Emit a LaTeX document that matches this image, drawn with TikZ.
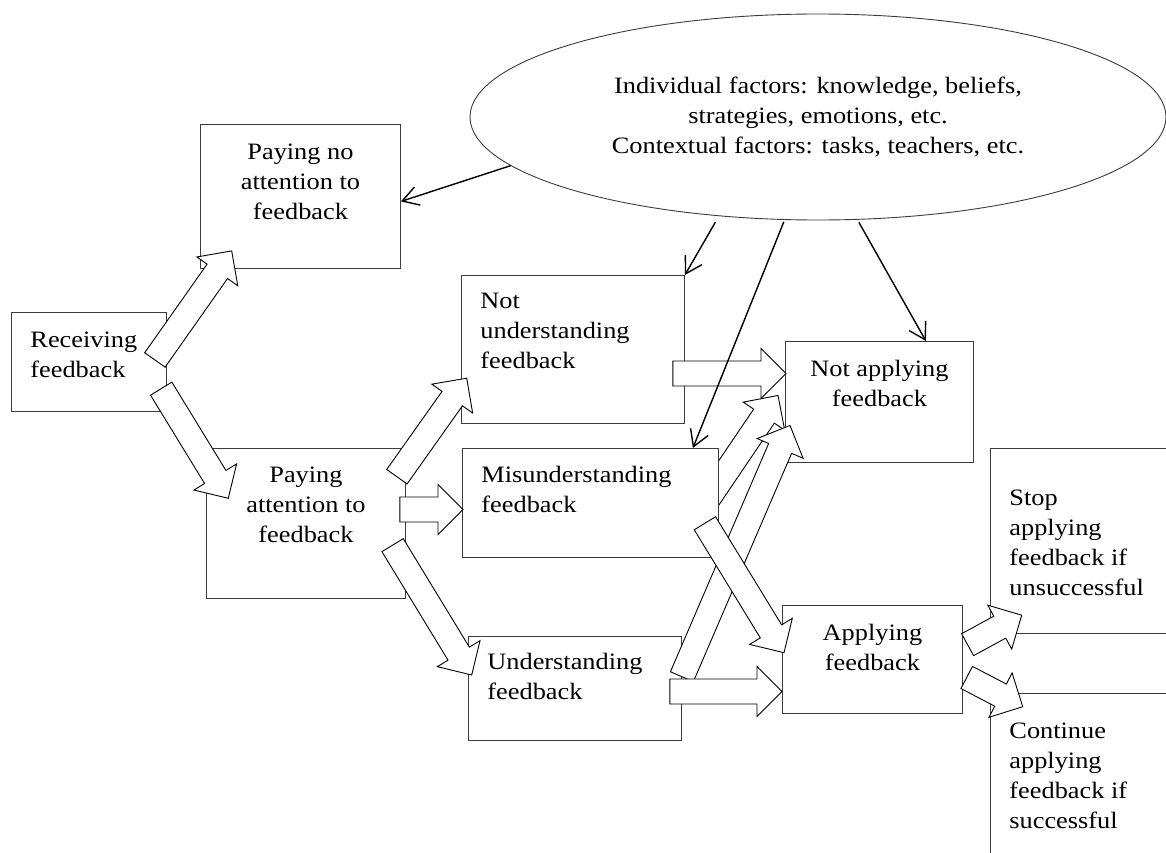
\documentclass[tikz,border=0pt]{standalone}
\usepackage{fontspec}
\setmainfont{Liberation Serif}[FakeStretch=1.12]
\usetikzlibrary{calc,shapes.geometric,arrows.meta,backgrounds}
\definecolor{boxline}{RGB}{60,60,60}

% hollow block arrow from tail to tip
\newcommand{\blockarrow}[2]{%
  \coordinate (ba-tail) at (#1);
  \coordinate (ba-tip) at (#2);
  \coordinate (ba-base) at ($(ba-tip)!25pt!(ba-tail)$);
  \draw[blockarr] ($(ba-tail)!12.5pt!90:(ba-tip)$) -- ($(ba-base)!12.5pt!90:(ba-tip)$)
    -- ($(ba-base)!25pt!90:(ba-tip)$) -- (ba-tip) -- ($(ba-base)!25pt!-90:(ba-tip)$)
    -- ($(ba-base)!12.5pt!-90:(ba-tip)$) -- ($(ba-tail)!12.5pt!-90:(ba-tip)$) -- cycle;
}

\begin{document}
\begin{tikzpicture}[x=1pt,y=-1pt,
    font=\fontsize{23.5}{30}\selectfont,
    box/.style={draw=boxline,line width=0.9pt,fill=white,anchor=north west,inner sep=0pt},
    lbox/.style={box,inner xsep=19pt},
    blockarr/.style={draw=black,line width=0.9pt,fill=white,line join=miter},
    infl/.style={-{Straight Barb[length=16pt,width=19pt]},line width=1.4pt}]
    \path[clip,use as bounding box] (0,0) rectangle (1166,853);

    % stages
    \node[lbox] (recv) at (11,312) {
        \begin{minipage}[t][99pt][t]{117pt}
            \vspace*{19.5pt}Receiving\\ feedback
        \end{minipage}
    };
    \node[box] (noatt) at (200,124) {
        \begin{minipage}[t][144pt][t]{200pt}
            \centering\vspace*{19.7pt}Paying no\\ attention to\\ feedback
        \end{minipage}
    };
    \node[box] (att) at (206,448) {
        \begin{minipage}[t][150pt][t]{199pt}
            \centering\vspace*{18.6pt}Paying\\ attention to\\ feedback
        \end{minipage}
    };
    \node[lbox] (notund) at (461,275) {
        \begin{minipage}[t][148pt][t]{185pt}
            \vspace*{18pt}Not\\ understanding\\ feedback
        \end{minipage}
    };
    \node[lbox] (misund) at (462,448) {
        \begin{minipage}[t][109pt][t]{218pt}
            \vspace*{18pt}Misunderstanding\\ feedback
        \end{minipage}
    };
    \node[lbox] (und) at (468,636) {
        \begin{minipage}[t][104pt][t]{175pt}
            \vspace*{16.7pt}Understanding\\ feedback
        \end{minipage}
    };
    \node[box] (notapp) at (785,341) {
        \begin{minipage}[t][121pt][t]{188pt}
            \centering\vspace*{18.3pt}Not applying\\ feedback
        \end{minipage}
    };
    \node[box] (app) at (782,605) {
        \begin{minipage}[t][108pt][t]{180pt}
            \centering\vspace*{19pt}Applying\\ feedback
        \end{minipage}
    };
    \node[lbox] (stopapp) at (990,448) {
        \begin{minipage}[t][185pt][t]{162pt}
            \vspace*{41.7pt}Stop\\ applying\\ feedback if\\ unsuccessful
        \end{minipage}
    };
    \node[lbox] (contapp) at (990,693) {
        \begin{minipage}[t][200pt][t]{162pt}
            \vspace*{29.6pt}Continue\\ applying\\ feedback if\\ successful
        \end{minipage}
    };

    % block arrows
    \begin{pgfonlayer}{background}
        \blockarrow{[shift={(-12,-2.5)}]misund.east}{[shift={(-7,-6.5)}]notapp.west}
    \end{pgfonlayer}
    \blockarrow{[shift={(-12,-2)}]recv.east}{[shift={(31.7,-18)}]noatt.south west}
    \blockarrow{[shift={(-5.7,26.7)}]recv.east}{[shift={(22.3,50.3)}]att.north west}
    \blockarrow{[shift={(-9,28.7)}]att.north east}{[shift={(5.7,-45.7)}]notund.south west}
    \blockarrow{[shift={(-6,-14)}]att.east}{[shift={(1,6.5)}]misund.west}
    \blockarrow{[shift={(-13.3,21.7)}]att.east}{[shift={(3.7,39)}]und.north west}
    \blockarrow{[shift={(-12,24)}]notund.east}{[shift={(1,-28.5)}]notapp.west}
    \blockarrow{[shift={(0,40.7)}]und.north east}{[shift={(5,23.5)}]notapp.west}
    \blockarrow{[shift={(-12,3)}]und.east}{[shift={(0,32)}]app.west}
    \blockarrow{[shift={(-14,20.3)}]misund.east}{[shift={(2,47.7)}]app.north west}
    \blockarrow{[shift={(4.7,-14.8)}]app.east}{[shift={(31.7,-18.7)}]stopapp.south west}
    \blockarrow{[shift={(3.8,18)}]app.east}{[shift={(32.7,13.7)}]contapp.north west}

    % factors
    \node[ellipse,draw=boxline,line width=0.9pt,minimum width=696pt,minimum height=206pt,
        inner sep=0pt,align=center] (factors) at (818,117)
        {Individual factors: knowledge, beliefs,\\ strategies, emotions, etc.\\ Contextual factors: tasks, teachers, etc.};

    \draw[infl] (factors.189.4) -- ([yshift=-5pt]noatt.east);
    \draw[infl,shorten <=7pt] (factors.225.7) -- (notund.north east);
    \draw[infl,shorten <=2pt] (factors.252.2) -- ([xshift=-26pt]misund.north east);
    \draw[infl,shorten <=3pt] (factors.291.8) -- ([xshift=-48pt]notapp.north east);
\end{tikzpicture}
\end{document}
